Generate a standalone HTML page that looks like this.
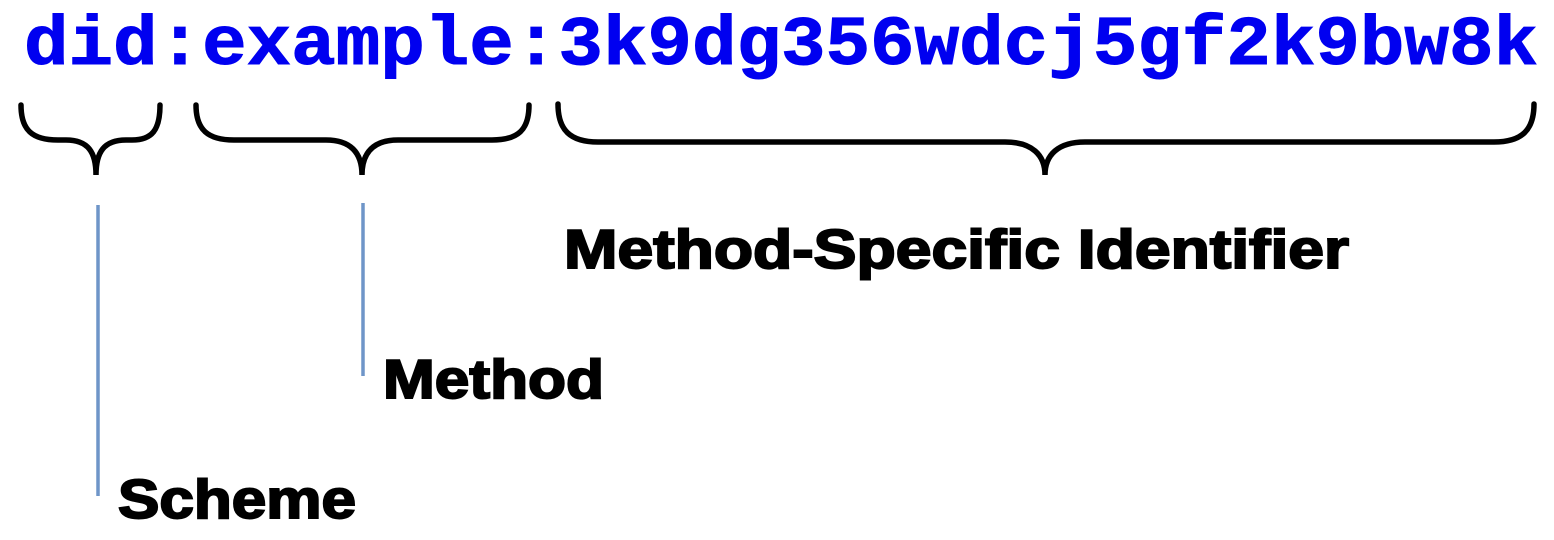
<!DOCTYPE html>
<html><head><style>html,body{margin:0;padding:0;background:#fff;}svg{display:block}</style></head>
<body>
<svg width="1554" height="540" viewBox="0 0 1554 540" xmlns="http://www.w3.org/2000/svg">
<text x="24" y="64" font-family="Liberation Mono, monospace" font-weight="bold" font-size="70" fill="#0000f0" stroke="#0000f0" stroke-width="1" textLength="1514" lengthAdjust="spacingAndGlyphs">did:example:3k9dg356wdcj5gf2k9bw8k</text>
<g fill="none" stroke="#000" stroke-width="5.5" stroke-linecap="round">
<path d="M21,105 C21,130 32,140 58,140 L66,140 C88,140 96,152 96,175 C96,152 104,140 126,140 L132,140 C152,140 160,130 160,105"/>
<path d="M196,105 C196,130 208,140 234,140 L326,140 C350,140 362,152 362,175 C362,152 374,140 398,140 L492,140 C518,140 529,130 529,105"/>
<path d="M558,104 C558,130 570,142 598,142 L1005,142 C1032,142 1045,155 1045,175 C1045,155 1058,142 1085,142 L1494,142 C1522,142 1534,130 1534,104"/>
</g>
<line x1="98" y1="205" x2="98" y2="496" stroke="#6f95c8" stroke-width="3.5"/>
<line x1="363" y1="203" x2="363" y2="376" stroke="#6f95c8" stroke-width="3.5"/>
<g font-family="Liberation Sans, Arial, sans-serif" font-weight="bold" fill="#000" stroke="#000" stroke-width="2">
<text x="564" y="268" font-size="55" textLength="785" lengthAdjust="spacingAndGlyphs">Method-Specific Identifier</text>
<text x="383" y="398" font-size="55" textLength="221" lengthAdjust="spacingAndGlyphs">Method</text>
<text x="118" y="518" font-size="55" textLength="238" lengthAdjust="spacingAndGlyphs">Scheme</text>
</g>
</svg>
</body></html>
